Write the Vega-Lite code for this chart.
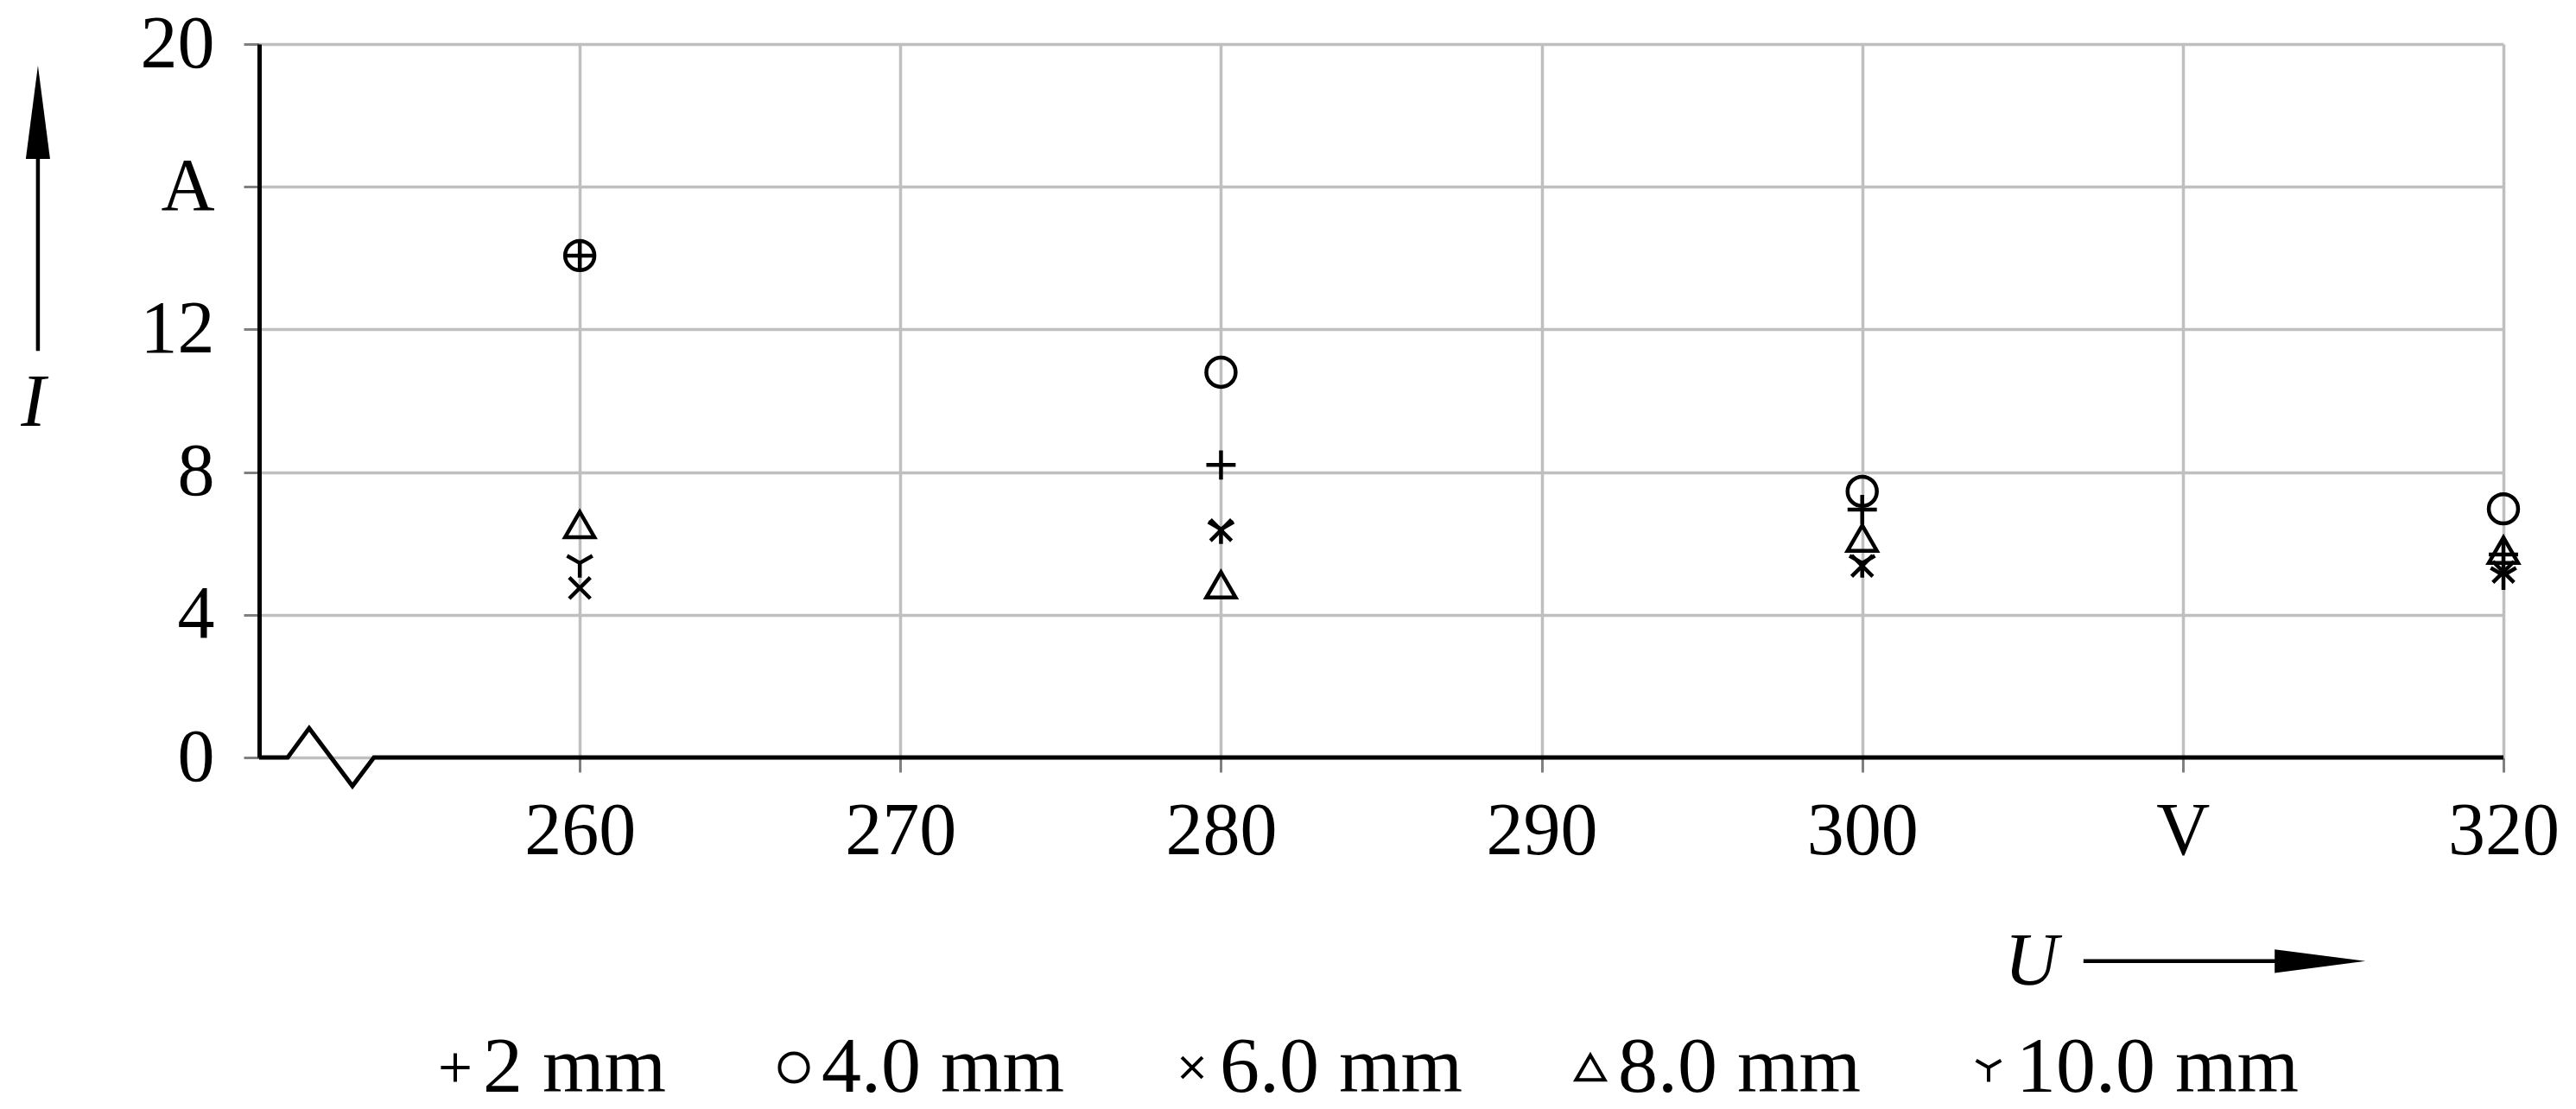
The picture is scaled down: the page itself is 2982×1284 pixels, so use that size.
{
  "$schema": "https://vega.github.io/schema/vega-lite/v6.json",
  "width": 2598,
  "height": 826,
  "autosize": {"type": "none"},
  "padding": {"left": 300, "top": 51, "right": 84, "bottom": 407},
  "background": "white",
  "config": {
    "font": "Liberation Serif",
    "view": {"stroke": null}
  },
  "datasets": {
    "points": [
      {"U": 260, "I": 14.07, "series": "2 mm"},
      {"U": 280, "I": 8.2, "series": "2 mm"},
      {"U": 300, "I": 6.95, "series": "2 mm"},
      {"U": 320, "I": 5.69, "series": "2 mm"},
      {"U": 260, "I": 14.07, "series": "4.0 mm"},
      {"U": 280, "I": 10.8, "series": "4.0 mm"},
      {"U": 300, "I": 7.46, "series": "4.0 mm"},
      {"U": 320, "I": 6.97, "series": "4.0 mm"},
      {"U": 260, "I": 4.75, "series": "6.0 mm"},
      {"U": 280, "I": 6.37, "series": "6.0 mm"},
      {"U": 300, "I": 5.37, "series": "6.0 mm"},
      {"U": 320, "I": 5.2, "series": "6.0 mm"},
      {"U": 260, "I": 6.53, "series": "8.0 mm"},
      {"U": 280, "I": 4.84, "series": "8.0 mm"},
      {"U": 300, "I": 6.15, "series": "8.0 mm"},
      {"U": 320, "I": 5.81, "series": "8.0 mm"},
      {"U": 260, "I": 5.45, "series": "10.0 mm"},
      {"U": 280, "I": 6.4, "series": "10.0 mm"},
      {"U": 300, "I": 5.45, "series": "10.0 mm"},
      {"U": 320, "I": 5.11, "series": "10.0 mm"}
    ],
    "axisline": [
      {"U": 250, "I": 0},
      {"U": 250.89, "I": 0},
      {"U": 251.56, "I": 0.82},
      {"U": 252.91, "I": -0.8},
      {"U": 253.58, "I": 0},
      {"U": 320, "I": 0}
    ],
    "shafts": [
      {"U": 243.1, "U2": 243.1, "I": 11.4, "I2": 17.6},
      {"U": 306.9, "U2": 313.6, "I": -5.71, "I2": -5.71}
    ],
    "headUp": [{"U": 243.1, "I": 18.09}],
    "headRight": [{"U": 314.28, "I": -5.71}]
  },
  "layer": [
    {
      "data": {"name": "points"},
      "mark": {"type": "point", "filled": false, "stroke": "black", "strokeWidth": 4.5, "size": 1150, "opacity": 1},
      "encoding": {
        "x": {
          "field": "U", "type": "quantitative",
          "scale": {"domain": [250, 320], "nice": false, "zero": false},
          "axis": {
            "values": [260, 270, 280, 290, 300, 310, 320],
            "domain": false,
            "grid": true, "gridColor": "#bfbfbf", "gridWidth": 3.5,
            "ticks": true, "tickColor": "#808080", "tickSize": 17, "tickWidth": 3,
            "labelFontSize": 86, "labelColor": "black", "labelPadding": 26,
            "labelFlush": false, "labelOverlap": false,
            "labelExpr": "datum.value == 310 ? 'V' : datum.label",
            "title": "U", "titleFontStyle": "italic", "titleFontWeight": "normal",
            "titleFontSize": 86, "titleColor": "black",
            "titleX": 2051, "titleY": 236, "titleAlign": "center", "titleBaseline": "middle"
          }
        },
        "y": {
          "field": "I", "type": "quantitative",
          "scale": {"domain": [0, 20], "nice": false, "zero": false},
          "axis": {
            "values": [0, 4, 8, 12, 16, 20],
            "domain": true, "domainColor": "black", "domainWidth": 5,
            "grid": true, "gridColor": "#bfbfbf", "gridWidth": 3.5,
            "ticks": true, "tickColor": "#808080", "tickSize": 18, "tickWidth": 3,
            "labelFontSize": 86, "labelColor": "black", "labelPadding": 34,
            "labelFlush": false, "labelOverlap": false,
            "labelExpr": "datum.value == 16 ? 'A' : datum.label",
            "title": "I", "titleAngle": 0, "titleFontStyle": "italic", "titleFontWeight": "normal",
            "titleFontSize": 86, "titleColor": "black",
            "titleX": -262, "titleY": 415, "titleAlign": "center", "titleBaseline": "middle"
          }
        },
        "shape": {
          "field": "series", "type": "nominal",
          "scale": {
            "domain": ["2 mm", "4.0 mm", "6.0 mm", "8.0 mm", "10.0 mm"],
            "range": [
              "M-1,0L1,0M0,-1L0,1",
              "circle",
              "M-0.72,-0.72L0.72,0.72M-0.72,0.72L0.72,-0.72",
              "triangle-up",
              "M0,0L0,1M0,0L-0.866,-0.5M0,0L0.866,-0.5"
            ]
          },
          "legend": {
            "orient": "none", "legendX": 181, "legendY": 1139,
            "direction": "horizontal", "title": null, "padding": 0,
            "labelFontSize": 92, "labelColor": "black", "labelOffset": -14, "labelLimit": 0,
            "symbolSize": 1100, "symbolStrokeWidth": 4, "symbolStrokeColor": "black",
            "symbolFillColor": "transparent", "symbolOpacity": 1,
            "columnPadding": 101
          }
        }
      }
    },
    {
      "data": {"name": "axisline"},
      "mark": {"type": "line", "color": "black", "strokeWidth": 5, "clip": false},
      "encoding": {
        "x": {"field": "U", "type": "quantitative"},
        "y": {"field": "I", "type": "quantitative"}
      }
    },
    {
      "data": {"name": "shafts"},
      "mark": {"type": "rule", "color": "black", "strokeWidth": 4.5, "clip": false},
      "encoding": {
        "x": {"field": "U", "type": "quantitative"},
        "x2": {"field": "U2"},
        "y": {"field": "I", "type": "quantitative"},
        "y2": {"field": "I2"}
      }
    },
    {
      "data": {"name": "headUp"},
      "mark": {"type": "point", "shape": "M0,-1L0.26,1L-0.26,1Z", "filled": true, "color": "black", "opacity": 1, "size": 11664, "clip": false},
      "encoding": {
        "x": {"field": "U", "type": "quantitative"},
        "y": {"field": "I", "type": "quantitative"}
      }
    },
    {
      "data": {"name": "headRight"},
      "mark": {"type": "point", "shape": "M1,0L-1,-0.26L-1,0.26Z", "filled": true, "color": "black", "opacity": 1, "size": 11025, "clip": false},
      "encoding": {
        "x": {"field": "U", "type": "quantitative"},
        "y": {"field": "I", "type": "quantitative"}
      }
    }
  ]
}
